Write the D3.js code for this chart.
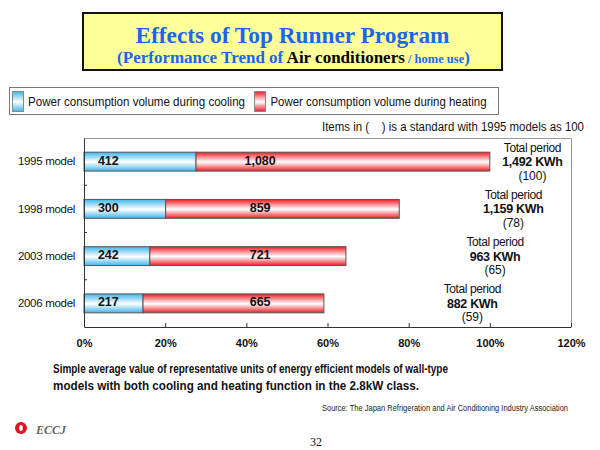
<!DOCTYPE html>
<html><head><meta charset="utf-8">
<script src="https://cdn.jsdelivr.net/npm/d3@7"></script>
<style>
html,body{margin:0;padding:0;background:#fff;}
svg{display:block;}
</style></head>
<body>
<script>
// ---- data ----
const categories = ["1995 model", "1998 model", "2003 model", "2006 model"];
const cooling = [412, 300, 242, 217];
const heating = [1080, 859, 721, 665];
const totalLabels = ["1,492 KWh", "1,159 KWh", "963 KWh", "882 KWh"];
const indexLabels = ["(100)", "(78)", "(65)", "(59)"];
const coolingLabels = ["412", "300", "242", "217"];
const heatingLabels = ["1,080", "859", "721", "665"];
const xTicks = [0, 0.2, 0.4, 0.6, 0.8, 1.0, 1.2];
const seriesNames = ["Power consumption volume during cooling", "Power consumption volume during heating"];
const baseTotal = 1492;
// layout for annotation anchors (fraction units of x scale)
const annotX = [1.105, 1.058, 1.013, 0.957];

(function () {
const W = 600, H = 450;
const svg = d3.select("body").append("svg").attr("width", W).attr("height", H);
const sans = "'Liberation Sans', Arial, sans-serif";
const serif = "'Liberation Serif', 'Times New Roman', serif";

const defs = svg.append("defs");
function grad(id, c) {
  const g = defs.append("linearGradient").attr("id", id).attr("x1", 0).attr("y1", 0).attr("x2", 0).attr("y2", 1);
  g.append("stop").attr("offset", "0%").attr("stop-color", c);
  g.append("stop").attr("offset", "52%").attr("stop-color", "#ffffff");
  g.append("stop").attr("offset", "100%").attr("stop-color", c);
}
grad("gBlue", "#3fb4ea");
grad("gRed", "#ee1c24");

// ---- header box ----
svg.append("rect").attr("x", 83).attr("y", 13).attr("width", 419).attr("height", 57)
  .attr("fill", "#ffff99").attr("stroke", "#111").attr("stroke-width", 2);
svg.append("text").attr("x", 292.5).attr("y", 43).attr("text-anchor", "middle")
  .attr("font-family", serif).attr("font-weight", "bold").attr("font-size", 24)
  .attr("fill", "#1a66ee").attr("textLength", 314).attr("lengthAdjust", "spacingAndGlyphs")
  .text("Effects of Top Runner Program");
const sub = svg.append("text").attr("x", 293.5).attr("y", 63).attr("text-anchor", "middle")
  .attr("font-family", serif).attr("font-weight", "bold").attr("font-size", 17).attr("fill", "#1a66ee");
sub.append("tspan").text("(Performance Trend of ");
sub.append("tspan").attr("fill", "#000").text("Air conditioners");
sub.append("tspan").attr("font-size", 12.5).text(" / home use");
sub.append("tspan").text(")");

// ---- legend ----
svg.append("rect").attr("x", 9.5).attr("y", 87.5).attr("width", 489).attr("height", 27)
  .attr("fill", "#fff").attr("stroke", "#777").attr("stroke-width", 1);
const legItems = [
  {name: seriesNames[0], fill: "url(#gBlue)", sx: 12.5, tx: 28, tw: 217},
  {name: seriesNames[1], fill: "url(#gRed)", sx: 254.5, tx: 270.5, tw: 216}
];
legItems.forEach(d => {
  svg.append("rect").attr("x", d.sx).attr("y", 91.5).attr("width", 11).attr("height", 20)
    .attr("fill", d.fill).attr("stroke", "#888").attr("stroke-width", 1);
  svg.append("text").attr("x", d.tx).attr("y", 106).attr("font-family", sans).attr("font-size", 13.5)
    .attr("fill", "#111").attr("textLength", d.tw).attr("lengthAdjust", "spacingAndGlyphs").text(d.name);
});

// ---- note ----
svg.append("text").attr("x", 584).attr("y", 131).attr("text-anchor", "end")
  .attr("font-family", sans).attr("font-size", 12).attr("fill", "#111")
  .style("white-space", "pre").attr("xml:space", "preserve")
  .attr("textLength", 262).attr("lengthAdjust", "spacingAndGlyphs")
  .text("Items in (    ) is a standard with 1995 models as 100");

// ---- plot ----
const pLeft = 84, pRight = 571, pTop = 138, pBottom = 327;
const x = d3.scaleLinear().domain([0, 1.2]).range([pLeft, pRight]);
const y = d3.scaleBand().domain(categories).range([pTop, pBottom]).paddingInner(0.6).paddingOuter(0.3);

// top and right border
svg.append("path").attr("d", `M${pLeft},${pTop + 0.5}H${pRight + 0.5}V${pBottom}`)
  .attr("fill", "none").attr("stroke", "#999").attr("stroke-width", 1);

const rows = categories.map((c, i) => ({c, i, cool: cooling[i], heat: heating[i]}));

// cooling bars
svg.selectAll(".cool").data(rows).join("rect").attr("class", "cool")
  .attr("x", x(0)).attr("y", d => y(d.c)).attr("height", y.bandwidth())
  .attr("width", d => x(d.cool / baseTotal) - x(0))
  .attr("fill", "url(#gBlue)").attr("stroke", "#555").attr("stroke-width", 1);
// heating bars
svg.selectAll(".heat").data(rows).join("rect").attr("class", "heat")
  .attr("x", d => x(d.cool / baseTotal)).attr("y", d => y(d.c)).attr("height", y.bandwidth())
  .attr("width", d => x((d.cool + d.heat) / baseTotal) - x(d.cool / baseTotal))
  .attr("fill", "url(#gRed)").attr("stroke", "#555").attr("stroke-width", 1);

// value labels
svg.selectAll(".cl").data(rows).join("text").attr("class", "cl")
  .attr("x", x(0.06)).attr("y", d => y(d.c) + y.bandwidth() / 2 + 3)
  .attr("text-anchor", "middle").attr("font-family", sans).attr("font-weight", "bold").attr("font-size", 12.5)
  .attr("fill", "#111").text(d => coolingLabels[d.i]);
svg.selectAll(".hl").data(rows).join("text").attr("class", "hl")
  .attr("x", x(0.434)).attr("y", d => y(d.c) + y.bandwidth() / 2 + 3)
  .attr("text-anchor", "middle").attr("font-family", sans).attr("font-weight", "bold").attr("font-size", 12.5)
  .attr("fill", "#111").text(d => heatingLabels[d.i]);

// annotations
rows.forEach(d => {
  const cx = x(annotX[d.i]);
  const cy = y(d.c) + y.bandwidth() / 2;
  const g = svg.append("g").attr("font-family", sans).attr("fill", "#111").attr("text-anchor", "middle");
  g.append("text").attr("x", cx).attr("y", cy - 10).attr("font-size", 12).attr("letter-spacing", -0.4).text("Total period");
  g.append("text").attr("x", cx).attr("y", cy + 4.5).attr("font-size", 12.5).attr("font-weight", "bold").attr("letter-spacing", -0.3).text(totalLabels[d.i]);
  g.append("text").attr("x", cx).attr("y", cy + 18).attr("font-size", 12).text(indexLabels[d.i]);
});

// x axis
const xAxis = d3.axisBottom(x).tickValues(xTicks).tickFormat(d3.format(".0%")).tickSizeInner(-4).tickSizeOuter(0).tickPadding(12);
const gx = svg.append("g").attr("transform", `translate(0,${pBottom})`).call(xAxis);
gx.select(".domain").attr("stroke", "#333");
gx.selectAll(".tick line").attr("stroke", "#333");
gx.selectAll("text").attr("font-family", sans).attr("font-weight", "bold").attr("font-size", 11).attr("fill", "#111");

// y axis
const yAxis = d3.axisLeft(y).tickSize(0).tickPadding(9);
const gy = svg.append("g").attr("transform", `translate(${pLeft},0)`).call(yAxis);
gy.select(".domain").attr("stroke", "#333");
gy.selectAll("text").attr("font-family", sans).attr("font-size", 11.5).attr("letter-spacing", -0.3)
  .attr("font-weight", 500).attr("fill", "#111");
// band boundary ticks
const bounds = categories.slice(1).map(c => y(c) - y.step() * y.paddingInner() / 2);
svg.selectAll(".bt").data(bounds).join("line").attr("class", "bt")
  .attr("x1", pLeft).attr("x2", pLeft + 3).attr("y1", d => d).attr("y2", d => d)
  .attr("stroke", "#333");

// ---- footnotes ----
const fn = svg.append("g").attr("font-family", sans).attr("font-weight", "bold").attr("font-size", 12.5).attr("fill", "#111");
fn.append("text").attr("x", 53).attr("y", 373).attr("textLength", 395).attr("lengthAdjust", "spacingAndGlyphs")
  .text("Simple average value of representative units of energy efficient models of wall-type");
fn.append("text").attr("x", 53).attr("y", 390).attr("textLength", 366).attr("lengthAdjust", "spacingAndGlyphs")
  .text("models with both cooling and heating function in the 2.8kW class.");
svg.append("text").attr("x", 568).attr("y", 411).attr("text-anchor", "end").attr("font-family", sans)
  .attr("font-size", 8.5).attr("fill", "#222").attr("textLength", 246).attr("lengthAdjust", "spacingAndGlyphs")
  .text("Source: The Japan Refrigeration and Air Conditioning Industry Association");

// logo
svg.append("circle").attr("cx", 21).attr("cy", 428).attr("r", 6).attr("fill", "#e0141e");
svg.append("ellipse").attr("cx", 21).attr("cy", 428).attr("rx", 1.8).attr("ry", 3).attr("fill", "#fff");
svg.append("text").attr("x", 36).attr("y", 434).attr("font-family", serif).attr("font-style", "italic")
  .attr("font-weight", "bold").attr("font-size", 12).attr("fill", "#666").text("ECCJ");
svg.append("text").attr("x", 316).attr("y", 446).attr("text-anchor", "middle").attr("font-family", serif)
  .attr("font-size", 12).attr("fill", "#111").text("32");
})();
</script>
</body></html>
